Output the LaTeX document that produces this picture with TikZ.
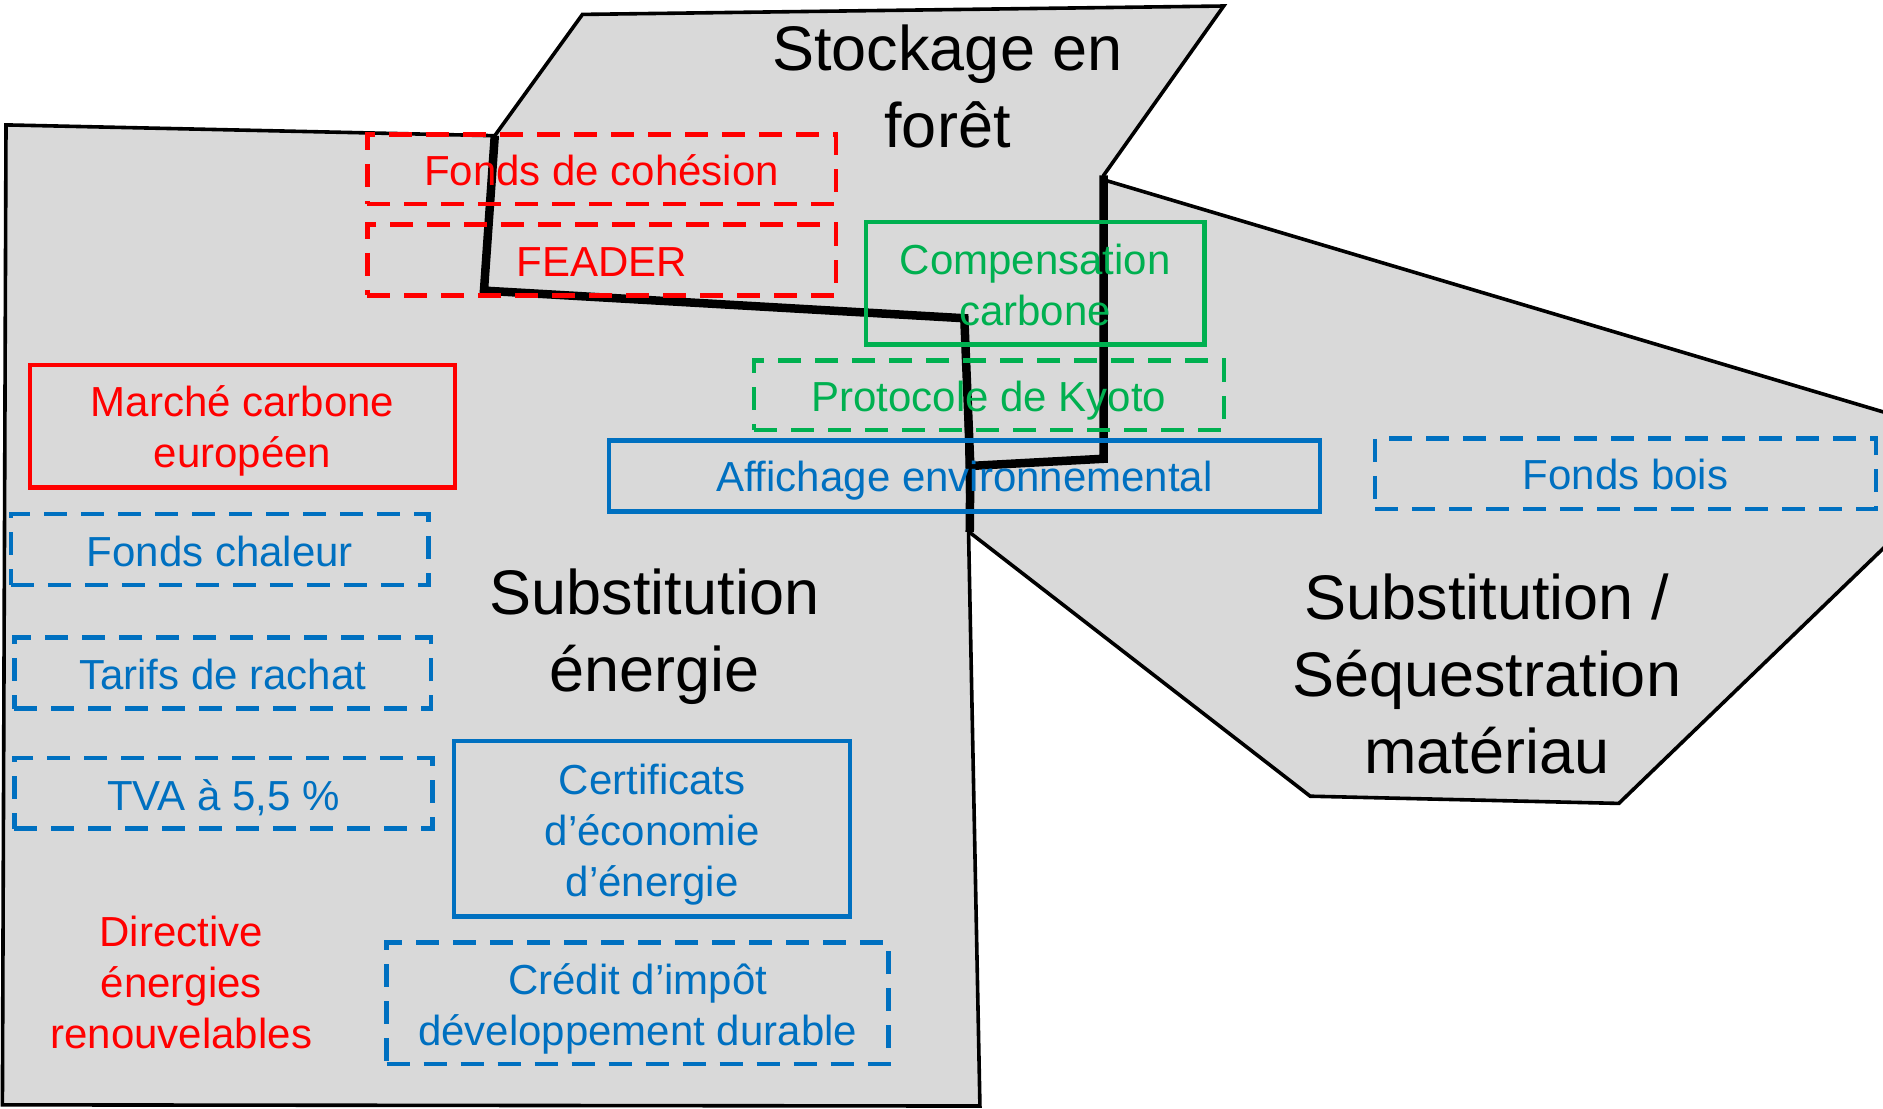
\documentclass[tikz,border=0pt]{standalone}
\usepackage{fontspec}
\setmainfont{Liberation Sans}
\definecolor{pfill}{HTML}{D9D9D9}
\definecolor{pred}{HTML}{FF0000}
\definecolor{pgreen}{HTML}{00B050}
\definecolor{pblue}{HTML}{0070C0}
\newcommand\pfsmall{\fontsize{42}{51}\selectfont}
\newcommand\pflarge{\fontsize{63}{77}\selectfont}
\begin{document}
\begin{tikzpicture}[x=1.2009pt,y=-1.2009pt,
  region/.style={fill=pfill,draw=black,line width=3.6pt,line join=miter},
  shared/.style={draw=black,line width=8.5pt,line join=miter},
  box/.style={draw,line width=4.5pt,inner sep=0pt},
  dashbox/.style={box,dash pattern=on 23pt off 14pt},
  txt/.style={font=\pfsmall,align=center,inner sep=0pt},
  big/.style={font=\pflarge,align=center,text=black,inner sep=0pt}]
\useasboundingbox (0,0) rectangle (1568,923);
\clip (0,0) rectangle (1568,923);
% regions
\path[region] (5,104) -- (412,113) -- (403,242) -- (803,265) -- (816,921) -- (2,920) -- cycle;
\path[region] (485,12) -- (1019,5) -- (919,146) -- (919,382) -- (808,388) -- (803,265) -- (403,242) -- (412,113) -- cycle;
\path[region] (920,150) -- (1600,352.5) -- (1600,426) -- (1348,669) -- (1091,663) -- (807,443) -- (808,388) -- (919,382) -- cycle;
\path[shared] (412,113) -- (403,242) -- (803,265) -- (808,388) -- (919,382) -- (919,146);
\path[shared] (808,388) -- (807.5,443);
% region labels
\node[big] (stockage) at (789,72) {Stockage en\\forêt};
\node[big] (energie) at (545,530.5) {Substitution\\énergie};
\node[big] (materiau) at (1238,561) {Substitution /\\Séquestration\\matériau};
% boxes
\node[dashbox,draw=pred,minimum width=468.4pt,minimum height=69.7pt] (cohesion) at (501,141) {};
\node[txt,text=pred] (cohesion-t) at (501,142) {Fonds de cohésion};
\node[dashbox,draw=pred,minimum width=468.4pt,minimum height=70.9pt] (feader) at (501,216.5) {};
\node[txt,text=pred] (feader-t) at (501,218.5) {FEADER};
\node[box,draw=pgreen,minimum width=338.7pt,minimum height=122.5pt] (compensation) at (862,236) {};
\node[txt,text=pgreen] (compensation-t) at (862,237.5) {Compensation\\carbone};
\node[dashbox,draw=pgreen,minimum width=469.6pt,minimum height=69.7pt] (kyoto) at (823.5,329) {};
\node[txt,text=pgreen] (kyoto-t) at (823.5,334) {Protocole de Kyoto};
\node[box,draw=pblue,minimum width=710.9pt,minimum height=70.9pt] (affichage) at (803,396.5) {};
\node[txt,text=pblue] (affichage-t) at (803,400.5) {Affichage environnemental};
\node[dashbox,draw=pblue,minimum width=500.8pt,minimum height=70.9pt] (bois) at (1353.5,394.5) {};
\node[txt,text=pblue] (bois-t) at (1353.5,395.5) {Fonds bois};
\node[box,draw=pred,minimum width=425.1pt,minimum height=122.5pt] (marche) at (202,355) {};
\node[txt,text=pred] (marche-t) at (202,359) {Marché carbone\\européen};
\node[dashbox,draw=pblue,minimum width=417.9pt,minimum height=70.9pt] (chaleur) at (183,457.5) {};
\node[txt,text=pblue] (chaleur-t) at (183,459.5) {Fonds chaleur};
\node[dashbox,draw=pblue,minimum width=416.7pt,minimum height=70.9pt] (tarifs) at (185.5,560.5) {};
\node[txt,text=pblue] (tarifs-t) at (185.5,561.5) {Tarifs de rachat};
\node[dashbox,draw=pblue,minimum width=417.9pt,minimum height=70.9pt] (tva) at (186,660.5) {};
\node[txt,text=pblue] (tva-t) at (186,664.5) {TVA à 5,5 \%};
\node[box,draw=pblue,minimum width=396.3pt,minimum height=175.3pt] (certificats) at (543,690) {};
\node[txt,text=pblue] (certificats-t) at (543,695) {Certificats\\d’économie\\d’énergie};
\node[dashbox,draw=pblue,minimum width=502pt,minimum height=121.3pt] (credit) at (531,835.5) {};
\node[txt,text=pblue] (credit-t) at (531,840.5) {Crédit d’impôt\\développement durable};
\node[txt,text=pred] (directive) at (151,818) {Directive\\énergies\\renouvelables};
\end{tikzpicture}
\end{document}
